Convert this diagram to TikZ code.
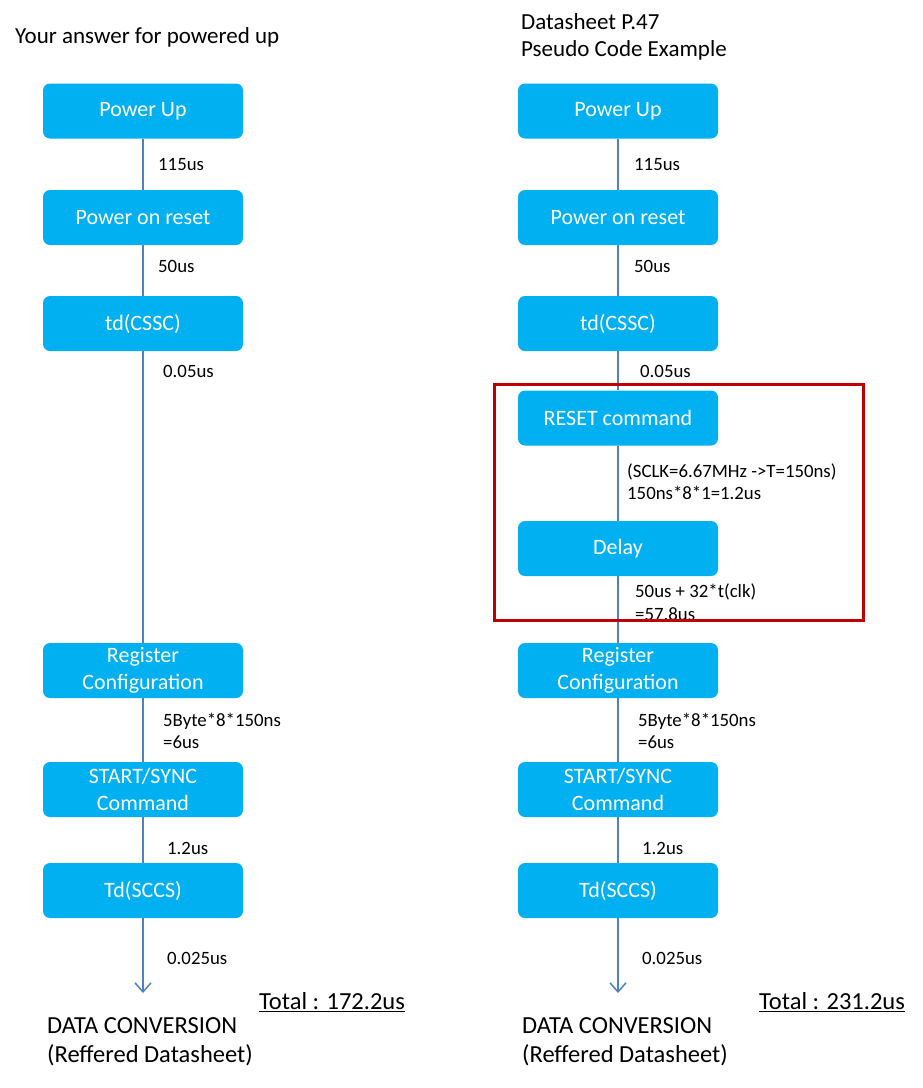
\documentclass[tikz,border=0pt]{standalone}
\usepackage{fontspec}
\setmainfont{Carlito}
\usetikzlibrary{arrows.meta}
\definecolor{boxblue}{HTML}{00B0F0}
\definecolor{linkblue}{HTML}{4F81BD}
\definecolor{framered}{HTML}{C00000}
\tikzset{
  stepbox/.style={fill=boxblue, draw=none, rounded corners=7pt, minimum width=200pt, minimum height=55pt,
    text=white, align=center, inner sep=0pt, font=\fontsize{22}{27}\selectfont},
  link/.style={draw=linkblue, line width=1.5pt},
  lbl/.style={anchor=west, inner sep=0pt, align=left, font=\fontsize{18.8}{22.5}\selectfont},
  big/.style={anchor=west, inner sep=0pt, align=left, font=\fontsize{23}{28.5}\selectfont},
  bigger/.style={anchor=west, inner sep=0pt, align=left, font=\fontsize{24.5}{29}\selectfont},
}
\begin{document}
\begin{tikzpicture}[x=1pt,y=-1pt]
\useasboundingbox (0,0) rectangle (923,1088);
% titles
\node[big] (tl) at (15,37) {Your answer for powered up};
\node[big] (tr1) at (521,22) {Datasheet P.47};
\node[big] (tr2) at (521,50) {Pseudo Code Example};
% left column
\node[stepbox] (lpu) at (143,111) {Power Up};
\node[stepbox] (lpor) at (143,217.5) {Power on reset};
\node[stepbox] (ltd) at (143,323.5) {td(CSSC)};
\node[stepbox] (lreg) at (143,670.5) {Register\\Configuration};
\node[stepbox] (lss) at (143,789.5) {START/SYNC\\Command};
\node[stepbox] (lTd) at (143,890.5) {Td(SCCS)};
\coordinate (lend) at (143,993);
\draw[link] (lpu) -- (lpor);
\draw[link] (lpor) -- (ltd);
\draw[link] (ltd) -- (lreg);
\draw[link] (lreg) -- (lss);
\draw[link] (lss) -- (lTd);
\draw[link, -{Straight Barb[length=9pt,width=16pt,line width=1.5pt]}] (lTd) -- (lend);
\node[lbl] (l1) at (158,165) {115us};
\node[lbl] (l2) at (158,266) {50us};
\node[lbl] (l3) at (163,371) {0.05us};
\node[lbl] (l4) at (163,731) {5Byte*8*150ns\\=6us};
\node[lbl] (l5) at (167,848) {1.2us};
\node[lbl] (l6) at (167,958) {0.025us};
\node[bigger] (ldc) at (47,1042) {DATA CONVERSION\\(Reffered Datasheet)};
\node[bigger] (ltot) at (259,1002) {\underline{Total : 172.2us}};
% right column
\node[stepbox] (rpu) at (618,111) {Power Up};
\node[stepbox] (rpor) at (618,217.5) {Power on reset};
\node[stepbox] (rtd) at (618,323.5) {td(CSSC)};
\node[stepbox] (rrst) at (618,418) {RESET command};
\node[stepbox] (rdl) at (618,548.5) {Delay};
\node[stepbox] (rreg) at (618,670.5) {Register\\Configuration};
\node[stepbox] (rss) at (618,789.5) {START/SYNC\\Command};
\node[stepbox] (rTd) at (618,890.5) {Td(SCCS)};
\coordinate (rend) at (618,993);
\draw[link] (rpu) -- (rpor);
\draw[link] (rpor) -- (rtd);
\draw[link] (rtd) -- (rrst);
\draw[link] (rrst) -- (rdl);
\draw[link] (rdl) -- (rreg);
\draw[link] (rreg) -- (rss);
\draw[link] (rss) -- (rTd);
\draw[link, -{Straight Barb[length=9pt,width=16pt,line width=1.5pt]}] (rTd) -- (rend);
\node[lbl] (r1) at (634,165) {115us};
\node[lbl] (r2) at (634,266) {50us};
\node[lbl] (r3) at (640,371) {0.05us};
\node[lbl] (r4) at (627,481.5) {(SCLK=6.67MHz ->T=150ns)\\150ns*8*1=1.2us};
\node[lbl] (r5) at (635,602) {50us + 32*t(clk)\\=57.8us};
\node[lbl] (r6) at (638,731) {5Byte*8*150ns\\=6us};
\node[lbl] (r7) at (642,848) {1.2us};
\node[lbl] (r8) at (642,958) {0.025us};
\node[bigger] (rdc) at (522,1042) {DATA CONVERSION\\(Reffered Datasheet)};
\node[bigger] (rtot) at (759,1002) {\underline{Total : 231.2us}};
% red frame
\draw[framered, line width=3pt] (494,384) rectangle (863,620);
\end{tikzpicture}
\end{document}
